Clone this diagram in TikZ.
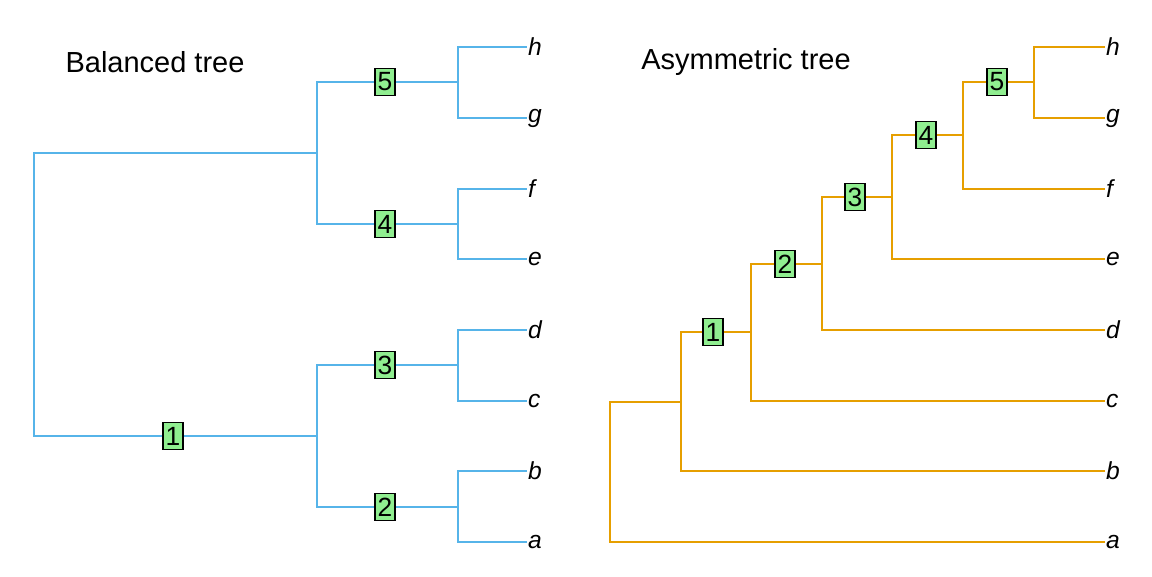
\documentclass[tikz,border=0pt]{standalone}
\usepackage{fontspec}
\setmainfont{Liberation Sans}
\usetikzlibrary{positioning}
\definecolor{treeblue}{HTML}{56B4E9}
\definecolor{treeorange}{HTML}{E69F00}
\definecolor{boxgreen}{HTML}{90EE90}
\begin{document}
\begin{tikzpicture}[x=0.02cm,y=-0.02cm,
	lab_box/.style={rectangle,fill=boxgreen,draw=black,line width=0.9pt,minimum width=0.4cm,minimum height=0.54cm,inner sep=0pt,font=\fontsize{15}{15}\selectfont},
	leaf_node/.style={anchor=west,inner sep=0.5pt,font=\fontsize{14}{15}\selectfont\itshape},
	title_node/.style={font=\fontsize{16.5}{18}\selectfont},
	blue_edge/.style={draw=treeblue,line width=1.1pt},
	orange_edge/.style={draw=treeorange,line width=1.1pt}]
		\useasboundingbox (0,0) rectangle (1152,576);
		
		\node[title_node] (t1) at (155,62) {Balanced tree};
		\node[title_node] (t2) at (746,62) {Asymmetric tree};
		
		% balanced tree
		\node[leaf_node] (bh) at (527,47) {h};
		\node[leaf_node] (bg) at (527,118) {g};
		\node[leaf_node] (bf) at (527,189) {f};
		\node[leaf_node] (be) at (527,259) {e};
		\node[leaf_node] (bd) at (527,330) {d};
		\node[leaf_node] (bc) at (527,401) {c};
		\node[leaf_node] (bb) at (527,471) {b};
		\node[leaf_node] (ba) at (527,542) {a};
		
		\coordinate (b0) at (34,294);
		\coordinate (bu) at (317,153);
		\coordinate (bl) at (317,436);
		\coordinate (b5) at (458,82);
		\coordinate (b4) at (458,224);
		\coordinate (b3) at (458,365);
		\coordinate (b2) at (458,507);
		
		\draw[blue_edge] (b0) |- (bu);
		\draw[blue_edge] (b0) |- (bl);
		\draw[blue_edge] (bu) |- (b5);
		\draw[blue_edge] (bu) |- (b4);
		\draw[blue_edge] (bl) |- (b3);
		\draw[blue_edge] (bl) |- (b2);
		\draw[blue_edge] (b5) |- (bh.west);
		\draw[blue_edge] (b5) |- (bg.west);
		\draw[blue_edge] (b4) |- (bf.west);
		\draw[blue_edge] (b4) |- (be.west);
		\draw[blue_edge] (b3) |- (bd.west);
		\draw[blue_edge] (b3) |- (bc.west);
		\draw[blue_edge] (b2) |- (bb.west);
		\draw[blue_edge] (b2) |- (ba.west);
		
		\node[lab_box] (bn1) at (173,436) {1};
		\node[lab_box] (bn2) at (385,507) {2};
		\node[lab_box] (bn3) at (385,365) {3};
		\node[lab_box] (bn4) at (385,224) {4};
		\node[lab_box] (bn5) at (385,82) {5};
		
		% asymmetric tree
		\node[leaf_node] (ah) at (1105,47) {h};
		\node[leaf_node] (ag) at (1105,118) {g};
		\node[leaf_node] (af) at (1105,189) {f};
		\node[leaf_node] (ae) at (1105,259) {e};
		\node[leaf_node] (ad) at (1105,330) {d};
		\node[leaf_node] (ac) at (1105,401) {c};
		\node[leaf_node] (ab) at (1105,471) {b};
		\node[leaf_node] (aa) at (1105,542) {a};
		
		\coordinate (a0) at (610,472);
		\coordinate (a1) at (681,402);
		\coordinate (a2) at (751,332);
		\coordinate (a3) at (822,264);
		\coordinate (a4) at (892,197);
		\coordinate (a5) at (963,135);
		\coordinate (a6) at (1034,82);
		
		\draw[orange_edge] (a0) |- (aa.west);
		\draw[orange_edge] (a0) |- (a1);
		\draw[orange_edge] (a1) |- (ab.west);
		\draw[orange_edge] (a1) |- (a2);
		\draw[orange_edge] (a2) |- (ac.west);
		\draw[orange_edge] (a2) |- (a3);
		\draw[orange_edge] (a3) |- (ad.west);
		\draw[orange_edge] (a3) |- (a4);
		\draw[orange_edge] (a4) |- (ae.west);
		\draw[orange_edge] (a4) |- (a5);
		\draw[orange_edge] (a5) |- (af.west);
		\draw[orange_edge] (a5) |- (a6);
		\draw[orange_edge] (a6) |- (ag.west);
		\draw[orange_edge] (a6) |- (ah.west);
		
		\node[lab_box] (an1) at (713,332) {1};
		\node[lab_box] (an2) at (785,264) {2};
		\node[lab_box] (an3) at (855,197) {3};
		\node[lab_box] (an4) at (926,135) {4};
		\node[lab_box] (an5) at (997,82) {5};
		\end{tikzpicture}
\end{document}
